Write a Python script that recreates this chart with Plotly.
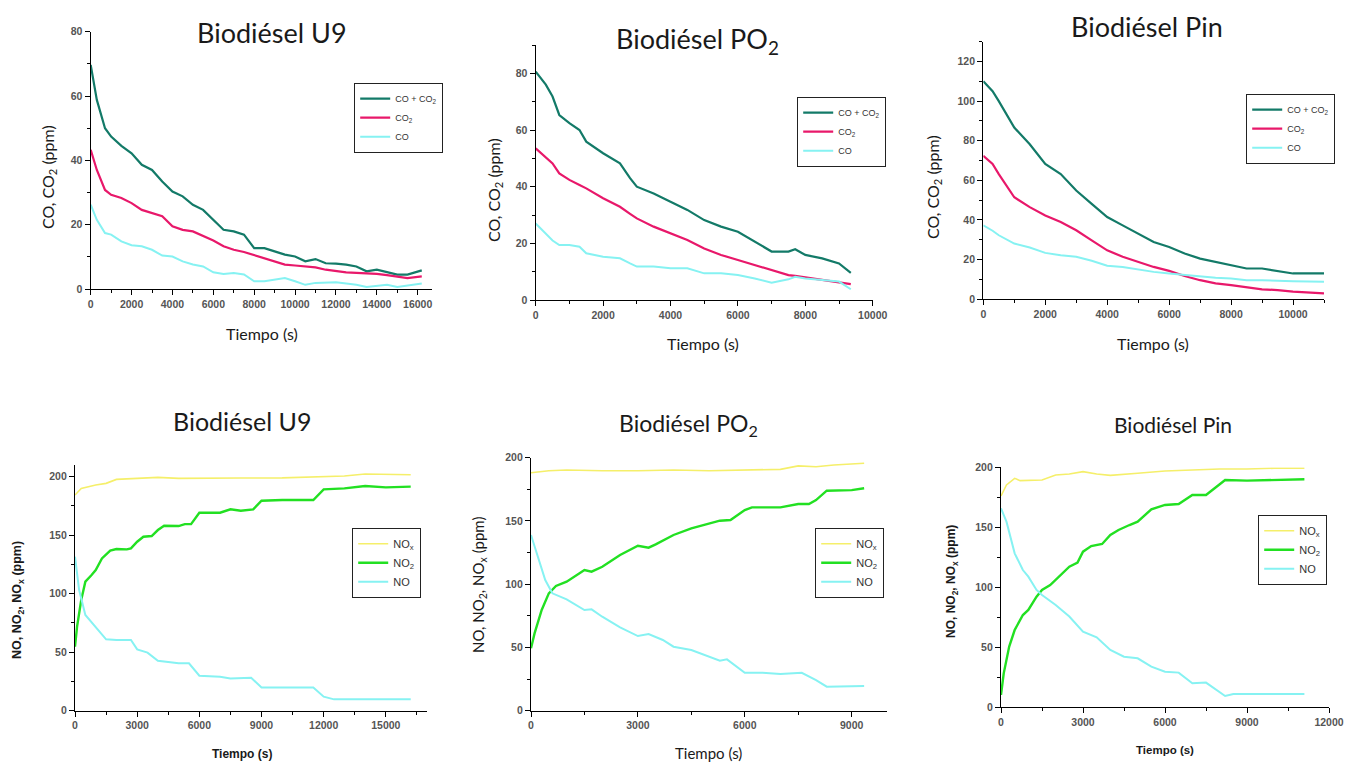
import plotly.graph_objects as go

W, H = 1346, 762

# ---------------- CO / CO2 panels ----------------
# Biodiésel U9
u9_t = [0, 300, 700, 1000, 1500, 2000, 2500, 3000, 3500, 4000, 4500, 5000, 5500, 6000, 6500,
        7000, 7500, 8000, 8500, 9000, 9500, 10000, 10500, 11000, 11500, 12000, 12500, 13000,
        13500, 14000, 14500, 15000, 15500, 16200]
u9_coco2 = [69.7, 58.8, 50.0, 47.4, 44.5, 42.2, 38.6, 37.0, 33.4, 30.3, 28.8, 26.2, 24.6, 21.5,
            18.4, 17.9, 16.9, 12.7, 12.7, 11.7, 10.7, 10.1, 8.6, 9.3, 8.0, 7.9, 7.6, 7.0, 5.5,
            6.0, 5.2, 4.5, 4.5, 5.8]
u9_co2 = [43.3, 37.0, 30.8, 29.3, 28.3, 26.7, 24.6, 23.6, 22.6, 19.5, 18.4, 17.9, 16.4, 15.1,
          13.3, 12.2, 11.5, 10.5, 9.6, 8.6, 7.6, 7.3, 7.0, 6.7, 6.0, 5.5, 5.2, 5.0, 4.9, 4.7,
          4.3, 3.9, 3.4, 3.9]
u9_co = [26.2, 21.5, 17.4, 16.9, 14.8, 13.6, 13.3, 12.2, 10.4, 10.1, 8.6, 7.6, 7.0, 5.2, 4.7,
         5.0, 4.5, 2.4, 2.4, 2.9, 3.4, 2.4, 1.3, 1.9, 2.0, 2.1, 1.7, 1.3, 0.6, 1.0, 1.3, 0.6,
         1.0, 1.7]

# Biodiésel PO2
po2_t = [0, 300, 500, 700, 1000, 1300, 1500, 2000, 2500, 2800, 3000, 3500, 4000, 4500, 5000,
         5500, 6000, 6500, 7000, 7500, 7700, 8000, 8500, 9000, 9350]
po2_coco2 = [80.6, 76.0, 71.8, 65.3, 62.4, 60.0, 55.9, 51.8, 48.2, 43.0, 40.0, 37.6, 34.7,
             31.8, 28.2, 25.9, 24.1, 20.6, 17.1, 17.1, 17.9, 15.9, 14.7, 12.9, 9.6]
po2_co2 = [53.5, 50.5, 48.2, 44.7, 42.4, 40.6, 39.4, 35.9, 32.9, 30.4, 28.8, 25.9, 23.5, 21.2,
           18.2, 15.9, 14.1, 12.4, 10.6, 8.8, 8.5, 8.0, 7.1, 6.1, 5.6]
po2_co = [27.0, 23.5, 21.0, 19.4, 19.4, 18.8, 16.5, 15.3, 14.7, 12.9, 11.8, 11.8, 11.2, 11.2,
          9.4, 9.4, 8.8, 7.6, 6.1, 7.3, 8.2, 7.6, 7.1, 6.5, 3.8]

# Biodiésel Pin
pin_t = [0, 300, 500, 1000, 1500, 2000, 2500, 3000, 3500, 4000, 4500, 5000, 5500, 6000, 6500,
         7000, 7500, 8000, 8500, 9000, 9500, 10000, 11000]
pin_coco2 = [110.0, 105.0, 100.0, 86.6, 78.2, 68.2, 63.1, 54.8, 48.1, 41.4, 37.2, 33.0, 28.8,
             26.3, 23.0, 20.4, 18.8, 17.1, 15.4, 15.4, 14.1, 12.9, 12.9]
pin_co2 = [72.4, 68.2, 63.1, 51.4, 46.4, 42.2, 38.9, 34.7, 29.6, 24.6, 21.3, 18.8, 16.2, 14.2,
           11.6, 9.5, 7.9, 7.0, 5.9, 4.9, 4.5, 3.7, 2.8]
pin_co = [37.2, 34.5, 32.2, 28.0, 26.0, 23.3, 22.1, 21.3, 19.3, 16.8, 16.2, 14.9, 13.7, 12.9,
          12.1, 11.2, 10.7, 10.4, 9.5, 9.5, 9.2, 9.0, 8.7]

# ---------------- NO / NO2 / NOx panels ----------------
u9n_t_nox = [0, 300, 1000, 1500, 2000, 3000, 4000, 5000, 6000, 8000, 10000, 12000, 13000,
             14000, 15000, 16200]
u9n_nox = [184.3, 190.0, 192.9, 194.3, 197.7, 198.3, 199.4, 198.6, 198.9, 198.9, 199.0, 200.0,
           200.6, 202.3, 202.3, 201.7]
u9n_t_no2 = [0, 100, 300, 500, 800, 1000, 1300, 1700, 2000, 2500, 2700, 3000, 3300, 3700, 4000,
             4300, 5000, 5300, 5600, 6000, 7000, 7500, 8000, 8600, 9000, 10000, 11500, 12000,
             13000, 14000, 15000, 16200]
u9n_no2 = [54.7, 71.8, 94.6, 110.3, 116.0, 120.2, 130.2, 136.8, 138.2, 137.9, 138.7, 144.4,
           148.7, 149.3, 154.4, 158.1, 157.8, 159.5, 159.5, 169.2, 169.2, 172.1, 170.9, 172.1,
           179.5, 180.1, 180.1, 189.2, 190.0, 192.0, 190.9, 191.5]
u9n_t_no = [0, 200, 500, 1000, 1500, 2000, 2700, 3000, 3500, 4000, 4500, 5000, 5500, 6000,
            7000, 7500, 8500, 9000, 10000, 11500, 12000, 12500, 16200]
u9n_no = [131.6, 103.1, 81.8, 71.8, 61.0, 60.4, 60.4, 52.4, 49.6, 42.7, 41.9, 40.5, 40.5, 29.9,
          29.1, 27.6, 28.2, 19.9, 19.9, 19.9, 12.0, 9.7, 9.7]

po2n_t_nox = [0, 500, 1000, 2000, 3000, 4000, 5000, 6000, 7000, 7500, 8000, 8500, 9350]
po2n_nox = [188.1, 189.7, 190.3, 189.7, 189.7, 190.3, 189.7, 190.3, 190.8, 193.5, 192.9,
            194.2, 195.6]
po2n_t_no2 = [0, 100, 300, 500, 700, 1000, 1500, 1700, 2000, 2500, 3000, 3300, 3500, 4000,
              4500, 5000, 5300, 5600, 6000, 6200, 7000, 7500, 7800, 8000, 8300, 9000, 9350]
po2n_no2 = [49.3, 61.1, 79.6, 92.8, 98.6, 102.0, 111.2, 109.9, 113.8, 123.1, 130.4, 128.9,
            131.5, 138.9, 144.1, 147.6, 150.2, 150.7, 158.6, 160.7, 160.7, 163.4, 163.4, 166.5,
            173.9, 174.4, 175.8]
po2n_t_no = [0, 200, 400, 600, 1000, 1500, 1700, 2000, 2500, 3000, 3300, 3700, 4000, 4500,
             5000, 5300, 5500, 6000, 6500, 7000, 7600, 8000, 8300, 9350]
po2n_no = [138.9, 121.7, 103.3, 92.8, 88.0, 79.6, 80.1, 74.3, 65.9, 59.0, 60.6, 55.9, 50.6,
           48.0, 42.7, 39.5, 40.6, 30.0, 30.0, 29.0, 30.0, 24.2, 19.0, 19.5]

pinn_t_nox = [0, 200, 500, 700, 1500, 2000, 2500, 3000, 3500, 4000, 5000, 6000, 7000, 8000,
              9000, 10000, 11100]
pinn_nox = [176.1, 185.3, 190.8, 188.9, 189.4, 193.6, 194.4, 196.4, 194.4, 193.3, 195.0, 196.9,
            197.8, 198.6, 198.6, 199.2, 199.2]
pinn_t_no2 = [0, 100, 300, 500, 800, 1000, 1300, 1500, 1800, 2000, 2500, 2800, 3000, 3300,
              3700, 4000, 4300, 4700, 5000, 5500, 6000, 6500, 7000, 7500, 8000, 8200, 9000,
              10000, 11100]
pinn_no2 = [10.3, 28.3, 50.6, 64.4, 76.9, 81.1, 92.2, 97.8, 101.9, 106.1, 117.2, 120.6, 129.7,
            134.4, 136.1, 143.6, 147.8, 151.9, 154.7, 165.0, 168.6, 169.4, 176.9, 176.9, 185.3,
            189.4, 188.9, 189.4, 190.0]
pinn_t_no = [0, 200, 500, 800, 1000, 1300, 1500, 2000, 2500, 3000, 3500, 4000, 4500, 5000,
             5500, 6000, 6500, 7000, 7500, 8000, 8200, 8500, 11100]
pinn_no = [165.8, 154.7, 128.3, 114.4, 108.9, 97.8, 93.6, 85.3, 75.6, 63.1, 58.3, 47.8, 42.2,
           40.8, 33.9, 29.7, 28.9, 20.0, 20.6, 13.1, 9.4, 11.1, 11.1]

# colours
C_SUM, C_CO2, C_CO = "#137a68", "#e8186a", "#86f2f2"
C_NOX, C_NO2, C_NO = "#f5ef6a", "#22e022", "#86f2f2"

TITLE_FONT = "Lato"
TICK_FONT = dict(family="Liberation Sans", size=10.5, color="#555555", weight="bold")


def px(x):
    return x / W


def py(y):
    return 1 - y / H


# panel geometry in pixels: (x0, x1, ytop, ybottom), axis ranges, ticks
panels = [
    dict(box=(90.7, 432, 31.7, 289), xr=[0, 16700], yr=[0, 80], xd=2000, yd=20),
    dict(box=(535.7, 872.7, 45, 300), xr=[0, 10000], yr=[0, 90], xd=2000, yd=20),
    dict(box=(983.3, 1324, 41.7, 299), xr=[0, 11000], yr=[0, 130], xd=2000, yd=20),
    dict(box=(75, 427.3, 465, 710.7), xr=[0, 17000], yr=[0, 210], xd=3000, yd=50),
    dict(box=(531, 887.3, 457.7, 710.7), xr=[0, 10000], yr=[0, 200], xd=3000, yd=50),
    dict(box=(1001, 1329, 467.3, 707.3), xr=[0, 12000], yr=[0, 200], xd=3000, yd=50),
]

series = [
    [("CO + CO<sub>2</sub>", u9_t, u9_coco2, C_SUM, 2.2), ("CO<sub>2</sub>", u9_t, u9_co2, C_CO2, 2.2),
     ("CO", u9_t, u9_co, C_CO, 2.0)],
    [("CO + CO<sub>2</sub>", po2_t, po2_coco2, C_SUM, 2.2), ("CO<sub>2</sub>", po2_t, po2_co2, C_CO2, 2.2),
     ("CO", po2_t, po2_co, C_CO, 2.0)],
    [("CO + CO<sub>2</sub>", pin_t, pin_coco2, C_SUM, 2.2), ("CO<sub>2</sub>", pin_t, pin_co2, C_CO2, 2.2),
     ("CO", pin_t, pin_co, C_CO, 2.0)],
    [("NO<sub>x</sub>", u9n_t_nox, u9n_nox, C_NOX, 1.6), ("NO<sub>2</sub>", u9n_t_no2, u9n_no2, C_NO2, 2.4),
     ("NO", u9n_t_no, u9n_no, C_NO, 2.0)],
    [("NO<sub>x</sub>", po2n_t_nox, po2n_nox, C_NOX, 1.6), ("NO<sub>2</sub>", po2n_t_no2, po2n_no2, C_NO2, 2.4),
     ("NO", po2n_t_no, po2n_no, C_NO, 2.0)],
    [("NO<sub>x</sub>", pinn_t_nox, pinn_nox, C_NOX, 1.6), ("NO<sub>2</sub>", pinn_t_no2, pinn_no2, C_NO2, 2.4),
     ("NO", pinn_t_no, pinn_no, C_NO, 2.0)],
]

# legend boxes: left edge, top edge
legend_pos = [(354, 83), (797, 97), (1246, 94), (352, 528), (815, 528), (1258, 515)]

fig = go.Figure()
layout = {}
for i, (p, ser) in enumerate(zip(panels, series)):
    n = "" if i == 0 else str(i + 1)
    lg = "legend" if i == 0 else f"legend{i + 1}"
    x0, x1, yt, yb = p["box"]
    for name, t, v, col, lw in ser:
        fig.add_trace(go.Scatter(x=t, y=v, mode="lines", name=name,
                                 line=dict(color=col, width=lw),
                                 xaxis=f"x{n}", yaxis=f"y{n}", legend=lg))
    common = dict(showline=True, linecolor="black", linewidth=1.3, ticks="outside", ticklen=5,
                  tickwidth=1.2, tickcolor="black", showgrid=False, zeroline=False,
                  tickfont=TICK_FONT, fixedrange=True, tickformat="d", automargin=False)
    layout[f"xaxis{n}"] = dict(common, domain=[px(x0), px(x1)], range=p["xr"], dtick=p["xd"],
                               tick0=0, anchor=f"y{n}",
                               minor=dict(ticks="outside", ticklen=3, dtick=p["xd"] / 2,
                                          tickcolor="black", tickwidth=1))
    layout[f"yaxis{n}"] = dict(common, domain=[py(yb), py(yt)], range=p["yr"], dtick=p["yd"],
                               tick0=0, anchor=f"x{n}",
                               minor=dict(ticks="outside", ticklen=3, dtick=p["yd"] / 2,
                                          tickcolor="black", tickwidth=1))
    lx, ly = legend_pos[i]
    layout[lg] = dict(x=px(lx), y=py(ly), xanchor="left", yanchor="top", bgcolor="white",
                      bordercolor="#222222", borderwidth=1.2, itemwidth=30,
                      font=dict(family="Liberation Sans", size=9 if i < 3 else 11, color="#333333"),
                      tracegroupgap=0)

fig.update_layout(template="none", **layout)

# titles and axis titles
texts = [
    # (text, x, y, size, angle, family, weight)
    ("Biodiésel U9", 272, 32, 27, 0, TITLE_FONT, "normal"),
    ("Biodiésel PO<sub>2</sub>", 697, 40, 27, 0, TITLE_FONT, "normal"),
    ("Biodiésel Pin", 1147, 26, 27, 0, TITLE_FONT, "normal"),
    ("Biodiésel U9", 242, 421, 25, 0, TITLE_FONT, "normal"),
    ("Biodiésel PO<sub>2</sub>", 688, 424, 23, 0, TITLE_FONT, "normal"),
    ("Biodiésel Pin", 1173, 424, 21, 0, TITLE_FONT, "normal"),
    ("CO, CO<sub>2</sub> (ppm)", 48, 177, 16, -90, TITLE_FONT, "normal"),
    ("CO, CO<sub>2</sub> (ppm)", 494, 190, 16, -90, TITLE_FONT, "normal"),
    ("CO, CO<sub>2</sub> (ppm)", 934, 187, 16, -90, TITLE_FONT, "normal"),
    ("NO, NO<sub>2</sub>, NO<sub>x</sub> (ppm)", 18, 600, 12.5, -90, "Liberation Sans", "bold"),
    ("NO, NO<sub>2</sub>, NO<sub>x</sub> (ppm)", 479, 585, 15, -90, TITLE_FONT, "normal"),
    ("NO, NO<sub>2</sub>, NO<sub>x</sub> (ppm)", 952, 582, 12, -90, "Liberation Sans", "bold"),
    ("Tiempo (s)", 262, 333, 16, 0, TITLE_FONT, "normal"),
    ("Tiempo (s)", 703, 343, 16, 0, TITLE_FONT, "normal"),
    ("Tiempo (s)", 1153, 343, 16, 0, TITLE_FONT, "normal"),
    ("Tiempo (s)", 242, 754, 12, 0, "Liberation Sans", "bold"),
    ("Tiempo (s)", 708, 753, 15, 0, TITLE_FONT, "normal"),
    ("Tiempo (s)", 1165, 750, 11.5, 0, "Liberation Sans", "bold"),
]
for txt, x, y, size, ang, fam, wt in texts:
    fig.add_annotation(text=txt, x=px(x), y=py(y), xref="paper", yref="paper",
                       showarrow=False, textangle=ang, xanchor="center", yanchor="middle",
                       font=dict(family=fam, size=size, color="#1a1a1a", weight=wt))

fig.update_layout(width=W, height=H,
                  margin=dict(l=0, r=0, t=0, b=0, pad=0, autoexpand=False),
                  paper_bgcolor="white", plot_bgcolor="white", showlegend=True,
                  hovermode="closest")

fig.write_html("out.html", config={"displayModeBar": False})
